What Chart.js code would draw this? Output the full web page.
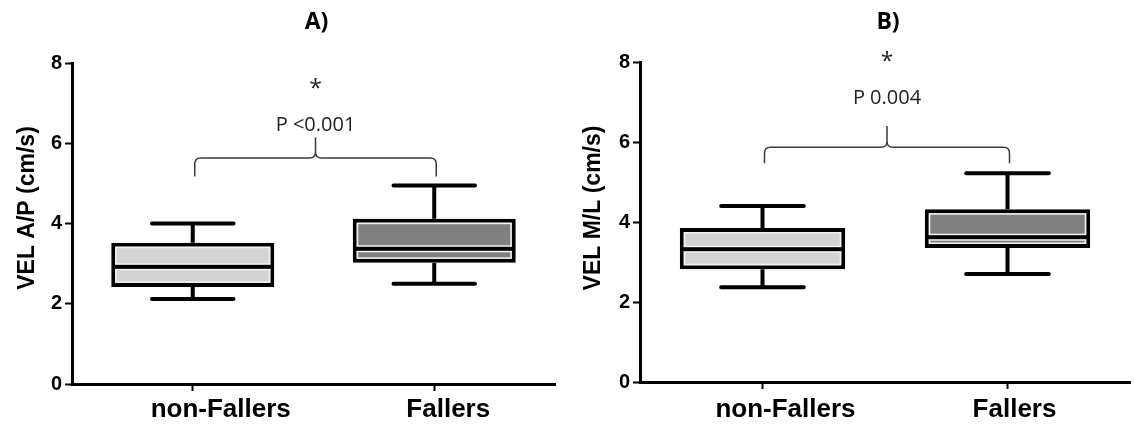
<!DOCTYPE html>
<html>
<head>
<meta charset="utf-8">
<title>VEL A/P and M/L box plots</title>
<script src="https://cdn.jsdelivr.net/npm/chart.js@4.4.0/dist/chart.umd.min.js"></script>
<style>
    body { margin: 0; background: #fff; }
    #wrap { position: relative; width: 1134px; height: 427px; }
    .panel { position: absolute; top: 0; width: 567px; height: 427px; }
</style>
</head>
<body>
<div id="wrap">
    <div class="panel" style="left:0"><canvas id="chartA" width="567" height="427"></canvas></div>
    <div class="panel" style="left:567px"><canvas id="chartB" width="567" height="427"></canvas></div>
</div>
<script>
// Groups and y ticks
const groups = ["non-Fallers", "Fallers"];
const yTicks = [0, 2, 4, 6, 8];

// Panel A - VEL A/P (cm/s), five-number summary per group
const apMin = [2.12, 2.5];
const apQ1 = [2.42, 3.02];
const apMedian = [2.92, 3.37];
const apQ3 = [3.52, 4.12];
const apMax = [4.0, 4.95];

// Panel B - VEL M/L (cm/s)
const mlMin = [2.37, 2.7];
const mlQ1 = [2.82, 3.35];
const mlMedian = [3.32, 3.62];
const mlQ3 = [3.85, 4.32];
const mlMax = [4.4, 5.22];

// Significance brace (y units): end, level, tip, p-text, star
const apBrace = [5.17, 5.63, 6.15, 6.45, 7.45];
const mlBrace = [5.47, 5.87, 6.4, 7.1, 8.1];
const apPText = "P <0.001";
const mlPText = "P 0.004";

const boxFill = ["#d3d3d3", "#808080"];
const boldFamily = "'Liberation Sans', Arial, sans-serif";

// Whiskers, median lines, brace and labels
const boxPlotExtras = {
    id: "boxPlotExtras",
    afterDatasetsDraw(chart, args, opts) {
        const ctx = chart.ctx;
        const xs = chart.scales.x;
        const ys = chart.scales.y;
        const meta = chart.getDatasetMeta(0);

        ctx.save();
        meta.data.forEach((bar, i) => {
            const { x, width } = bar.getProps(["x", "width"], true);
            const half = width / 2;
            const top = ys.getPixelForValue(opts.q3[i]);
            const bottom = ys.getPixelForValue(opts.q1[i]);

            // thin light line inside the black border
            ctx.strokeStyle = "#f2f2f2";
            ctx.lineWidth = 1.5;
            ctx.strokeRect(x - half + 4.75, top + 4.75, width - 9.5, bottom - top - 9.5);

            // median
            const med = ys.getPixelForValue(opts.median[i]);
            ctx.fillStyle = "#f2f2f2";
            ctx.fillRect(x - half + 4, med - 3.5, width - 8, 7);
            ctx.fillStyle = "#000";
            ctx.fillRect(x - half + 2, med - 2, width - 4, 4);

            // whisker stems
            ctx.strokeStyle = "#000";
            ctx.lineWidth = 4;
            ctx.lineCap = "butt";
            const yMax = ys.getPixelForValue(opts.max[i]);
            const yMin = ys.getPixelForValue(opts.min[i]);
            ctx.beginPath();
            ctx.moveTo(x, top);
            ctx.lineTo(x, yMax);
            ctx.moveTo(x, bottom);
            ctx.lineTo(x, yMin);
            ctx.stroke();

            // whisker caps
            ctx.lineCap = "round";
            ctx.beginPath();
            ctx.moveTo(x - half / 2, yMax);
            ctx.lineTo(x + half / 2, yMax);
            ctx.moveTo(x - half / 2, yMin);
            ctx.lineTo(x + half / 2, yMin);
            ctx.stroke();
        });

        // curly brace between the two groups
        const b = opts.brace;
        const x0 = xs.getPixelForValue(0) + opts.braceShift;
        const x1 = xs.getPixelForValue(1) + opts.braceShift;
        const xm = (x0 + x1) / 2;
        const yEnd = ys.getPixelForValue(b[0]);
        const yLvl = ys.getPixelForValue(b[1]);
        const yTip = ys.getPixelForValue(b[2]);
        const r = 6;
        ctx.strokeStyle = "#3a3a3a";
        ctx.lineWidth = 1.5;
        ctx.lineCap = "butt";
        ctx.beginPath();
        ctx.moveTo(x0, yEnd);
        ctx.lineTo(x0, yLvl + r);
        ctx.quadraticCurveTo(x0, yLvl, x0 + r, yLvl);
        ctx.lineTo(xm - r, yLvl);
        ctx.quadraticCurveTo(xm, yLvl, xm, yLvl - r);
        ctx.lineTo(xm, yTip);
        ctx.moveTo(xm, yLvl - r);
        ctx.quadraticCurveTo(xm, yLvl, xm + r, yLvl);
        ctx.lineTo(x1 - r, yLvl);
        ctx.quadraticCurveTo(x1, yLvl, x1, yLvl + r);
        ctx.lineTo(x1, yEnd);
        ctx.stroke();

        // p value and star
        ctx.fillStyle = "#222";
        ctx.textAlign = "center";
        ctx.textBaseline = "middle";
        ctx.font = "20px 'Open Sans', sans-serif";
        ctx.fillText(opts.pText, xm, ys.getPixelForValue(b[3]));
        ctx.font = "23px 'Open Sans', sans-serif";
        ctx.fillText("*", xm, ys.getPixelForValue(b[4]) + 4);

        // panel title over the plot area
        const area = chart.chartArea;
        ctx.fillStyle = "#000";
        ctx.font = "bold 23px 'Open Sans', sans-serif";
        ctx.fillText(opts.title, (area.left + area.right) / 2 + 3, 22);

        // group names under the x axis (set a little right of the ticks, as in the figure)
        ctx.font = "bold 26px " + boldFamily;
        groups.forEach((g, i) => {
            ctx.fillText(g, xs.getPixelForValue(i) + opts.groupShift[i], 410);
        });

        // y axis label
        ctx.translate(opts.labelX, opts.labelY);
        ctx.rotate(-Math.PI / 2);
        ctx.font = "bold 23px " + boldFamily;
        ctx.fillText(opts.yLabel, 0, 0);
        ctx.restore();
    }
};

// Build one panel
function makePanel(canvasId, cfg) {
    return new Chart(document.getElementById(canvasId), {
        type: "bar",
        data: {
            labels: groups,
            datasets: [{
                data: cfg.q1.map((v, i) => [v, cfg.q3[i]]),
                backgroundColor: boxFill,
                borderColor: "#000",
                borderWidth: 4,
                borderSkipped: false,
                barPercentage: 0.675,
                categoryPercentage: 1
            }]
        },
        options: {
            responsive: false,
            animation: false,
            devicePixelRatio: 1,
            layout: { padding: { top: cfg.top, right: cfg.right, left: 0, bottom: 0 } },
            plugins: {
                legend: { display: false },
                tooltip: { enabled: false },
                boxPlotExtras: cfg
            },
            scales: {
                x: {
                    offset: true,
                    grid: { drawOnChartArea: false, offset: false, tickLength: 7, tickWidth: 2, tickColor: "#000" },
                    border: { display: true, width: 3, color: "#000" },
                    ticks: { display: false },
                    afterFit: s => { s.height = cfg.xHeight; }
                },
                y: {
                    min: 0,
                    max: 8,
                    afterBuildTicks: s => { s.ticks = yTicks.map(v => ({ value: v })); },
                    grid: { drawOnChartArea: false, tickLength: 7, tickWidth: 2, tickColor: "#000" },
                    border: { display: true, width: 3, color: "#000" },
                    ticks: { color: "#000", font: { family: boldFamily, weight: "bold", size: 20 }, padding: 3 },
                    afterFit: s => { s.width = cfg.yWidth; }
                }
            }
        },
        plugins: [boxPlotExtras]
    });
}

makePanel("chartA", {
    title: "A)", yLabel: "VEL A/P (cm/s)",
    min: apMin, q1: apQ1, median: apMedian, q3: apQ3, max: apMax,
    brace: apBrace, pText: apPText, braceShift: 2, groupShift: [28, 14],
    top: 63, right: 12, yWidth: 72, xHeight: 43,
    labelX: 28, labelY: 208
});

makePanel("chartB", {
    title: "B)", yLabel: "VEL M/L (cm/s)",
    min: mlMin, q1: mlQ1, median: mlMedian, q3: mlQ3, max: mlMax,
    brace: mlBrace, pText: mlPText, braceShift: 2, groupShift: [23, 7],
    top: 62, right: 4, yWidth: 73, xHeight: 45,
    labelX: 27, labelY: 208
});
</script>
</body>
</html>
